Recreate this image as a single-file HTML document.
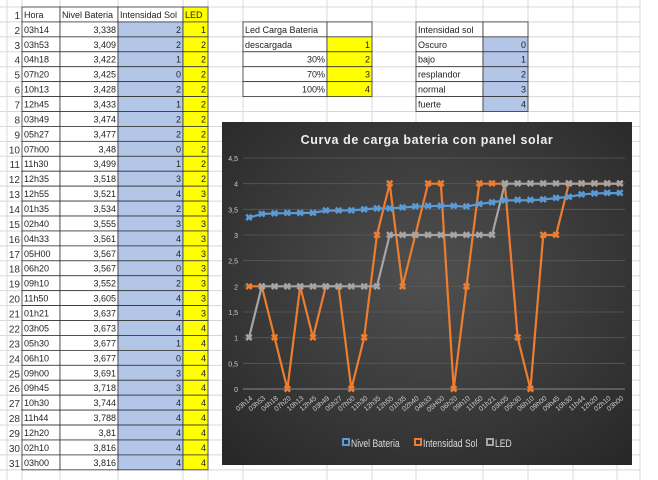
<!DOCTYPE html>
<html><head><meta charset="utf-8"><style>
body{margin:0;width:658px;height:480px;background:#fff;position:relative;overflow:hidden;font-family:"Liberation Sans",sans-serif;}
svg{position:absolute;left:0;top:0}
</style></head><body>
<svg id="s" width="658" height="480"></svg>
<script>
const hours=["03h14","03h53","04h18","07h20","10h13","12h45","03h49","05h27","07h00","11h30","12h35","12h55","01h35","02h40","04h33","05H00","06h20","09h10","11h50","01h21","03h05","05h30","06h10","09h00","09h45","10h30","11h44","12h20","02h10","03h00"];
const bateria=[3.338,3.409,3.422,3.425,3.428,3.433,3.474,3.477,3.48,3.499,3.518,3.521,3.534,3.555,3.561,3.567,3.567,3.552,3.605,3.637,3.673,3.677,3.677,3.691,3.718,3.744,3.788,3.81,3.816,3.816];
const sol=[2,2,1,0,2,1,2,2,0,1,3,4,2,3,4,4,0,2,4,4,4,1,0,3,3,4,4,4,4,4];
const led=[1,2,2,2,2,2,2,2,2,2,2,3,3,3,3,3,3,3,3,3,4,4,4,4,4,4,4,4,4,4];
const yTicks=[0,0.5,1,1.5,2,2.5,3,3.5,4,4.5];
const NS="http://www.w3.org/2000/svg",s=document.getElementById('s');
function el(t,a,p){const e=document.createElementNS(NS,t);for(const k in a)e.setAttribute(k,a[k]);(p||s).appendChild(e);return e;}
function fmt(v){return String(v).replace('.',',');}
const R0=7,RH=14.93,cols=[7,22,60,118,183,208,243,327,372,416,483,528,573,617,640];
const gg=el('g',{});
for(let i=0;i<=31;i++)el('line',{x1:0,x2:640,y1:R0+i*RH,y2:R0+i*RH,stroke:'#d8d8d8','stroke-width':1},gg);
cols.forEach(x=>el('line',{x1:x,x2:x,y1:0,y2:480,stroke:'#d8d8d8'},gg));
const tbl=el('g',{});
function cell(x,y,w,txt,fill,align,bold,name){const g=el('g',{},tbl);
el('rect',{x:x,y:y,width:w,height:RH,fill:fill||'#fff',stroke:'#333','stroke-width':0.8},g);
const t=el('text',{x:align=='end'?x+w-2:x+2,y:y+RH-4,'font-size':9,'text-anchor':align=='end'?'end':'start',fill:'#222'},g);t.textContent=txt;}
const heads=["Hora","Nivel Bateria","Intensidad Sol","LED"];
for(let r=0;r<31;r++){const y=R0+r*RH;const n=el('text',{x:20,y:y+RH-3,'font-size':10,'text-anchor':'end',fill:'#333'},tbl);n.textContent=r+1;}
heads.forEach((h,i)=>cell(cols[i+1],R0,cols[i+2]-cols[i+1],h,i==3?'#ffff00':'#fff','start',0,'header-'+h.toLowerCase().replace(' ','-')));
for(let i=0;i<30;i++){const y=R0+(i+1)*RH;
cell(22,y,38,hours[i],'#fff','start',0,'hora-cell');
cell(60,y,58,fmt(bateria[i]),'#fff','end',0,'bateria-cell');
cell(118,y,65,sol[i],'#b4c6e7','end',0,'sol-cell');
cell(183,y,25,led[i],'#ffff00','end',0,'led-cell');}
const t1=[["Led Carga Bateria",""],["descargada","1"],["30%","2"],["70%","3"],["100%","4"]];
t1.forEach((r,i)=>{const y=R0+(i+1)*RH;cell(243,y,84,r[0],'#fff',i>1?'end':'start',0,'led-legend-label');cell(327,y,45,r[1],i?'#ffff00':'#fff','end',0,'led-legend-value');});
const t2=[["Intensidad sol",""],["Oscuro","0"],["bajo","1"],["resplandor","2"],["normal","3"],["fuerte","4"]];
t2.forEach((r,i)=>{const y=R0+(i+1)*RH;cell(416,y,67,r[0],'#fff','start',0,'sol-legend-label');cell(483,y,45,r[1],i?'#b4c6e7':'#fff','end',0,'sol-legend-value');});
const defs=el('defs',{});const lg=el('radialGradient',{id:'bg',cx:'50%',cy:'45%',r:'75%'},defs);
el('stop',{offset:'0','stop-color':'#505050'},lg);el('stop',{offset:'1','stop-color':'#262626'},lg);
const ch=el('g',{});
el('rect',{x:222,y:122,width:410,height:343,fill:'url(#bg)'},ch);
const ti=el('text',{x:427,y:144,'font-size':12.5,'font-weight':'bold','text-anchor':'middle',fill:'#eee','letter-spacing':'0.6'},ch);ti.textContent="Curva de carga bateria con panel solar";

const X0=249,X1=620,Y0=389,YT=158;
const xs=i=>X0+i*(X1-X0)/(hours.length-1),ys=v=>Y0-v/4.5*(Y0-YT);
yTicks.forEach(v=>{el('line',{x1:243,x2:625,y1:ys(v),y2:ys(v),stroke:'#5a5a5a','stroke-width':0.8},ch);
const t=el('text',{x:238,y:ys(v)+3,'font-size':7,'text-anchor':'end',fill:'#ccc'},ch);t.textContent=fmt(v);});
el('line',{x1:243,x2:625,y1:Y0,y2:Y0,stroke:'#888'},ch);
hours.forEach((h,i)=>{const t=el('text',{x:xs(i)+4,y:Y0+10,'font-size':7,'text-anchor':'end',fill:'#ccc',transform:`rotate(-40 ${xs(i)+4} ${Y0+10})`},ch);t.textContent=h;});
function series(d,c,name){const g=el('g',{},ch);
el('polyline',{points:d.map((v,i)=>xs(i)+','+ys(v)).join(' '),fill:'none',stroke:c,'stroke-width':2.2},g);
d.forEach((v,i)=>{const m=el('text',{x:xs(i),y:ys(v)+3.5,'font-size':10,'font-weight':'bold','text-anchor':'middle',fill:c},g);m.textContent='✖';});}
series(sol,'#ed7d31','series-intensidad-sol');
series(led,'#a5a5a5','series-led');
series(bateria,'#5b9bd5','series-nivel-bateria');
const leg=[["Nivel Bateria","#5b9bd5",345],["Intensidad Sol","#ed7d31",417],["LED","#a5a5a5",489]];
leg.forEach(l=>{const g=el('g',{},ch);
el('rect',{x:l[2]-2,y:439,width:6,height:6,fill:'none',stroke:l[1],'stroke-width':2},g);
const t=el('text',{x:0,y:0,'font-size':11,fill:'#ddd',transform:`translate(${l[2]+6},447) scale(0.78,1)`},g);t.textContent=l[0];});
</script>
</body></html>
